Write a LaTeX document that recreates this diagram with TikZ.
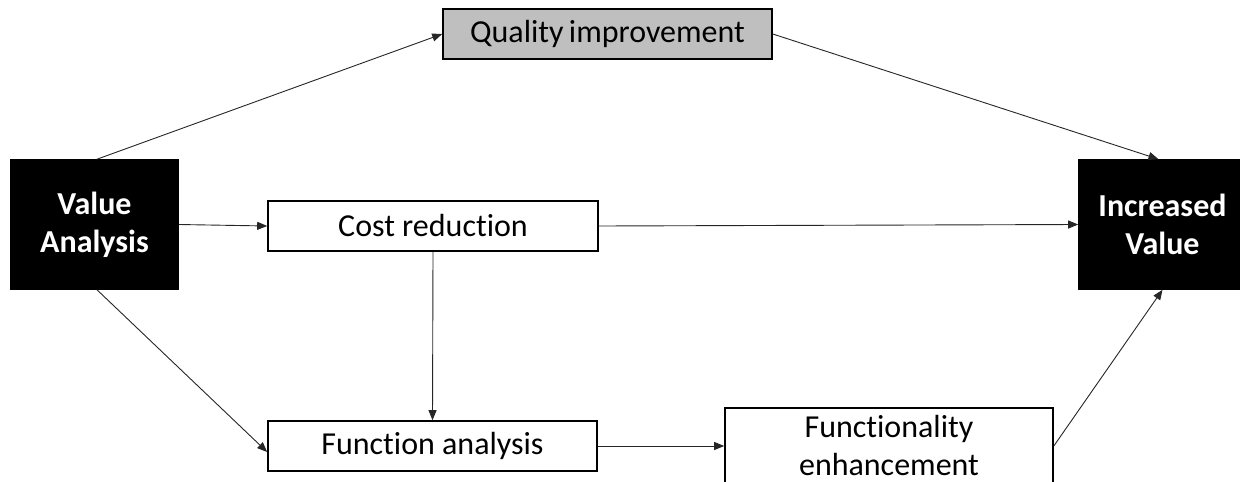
\documentclass[tikz,border=0pt]{standalone}
\usepackage{fontspec}
\setmainfont{Carlito}[Ligatures={NoCommon,NoContextual}]
\usetikzlibrary{arrows.meta}
\begin{document}
\begin{tikzpicture}[x=1pt,y=-1pt,
  font=\fontsize{32}{38}\selectfont,
  box/.style={draw=black,line width=1.6pt,rectangle,inner sep=0pt,align=center},
  dark/.style={box,fill=black,text=white,font=\fontsize{32}{38}\selectfont\bfseries,minimum width=167pt,minimum height=129pt},
  conn/.style={draw=black!85,line width=0.9pt,-{Triangle[length=10pt,width=8pt]}}]
\useasboundingbox (0,0) rectangle (1240,482);
\node[dark] (va) at (94.5,224.5) {Value\\Analysis};
\node[dark] (iv) at (1162.5,224.5) {Increased\\Value};
\node[box,fill=black!25,minimum width=329pt,minimum height=50pt] (qi) at (607.5,34) {Quality\,improvement};
\node[box,fill=white,minimum width=330pt,minimum height=50pt] (cr) at (433,226) {Cost reduction};
\node[box,fill=white,minimum width=329pt,minimum height=50pt] (fa) at (432.5,446) {Function analysis};
\node[box,fill=white,minimum width=328pt,minimum height=76pt] (fe) at (889,446) {Functionality\\enhancement};
\draw[conn] ([xshift=2.5pt]va.north) -- (qi.west);
\draw[conn] (qi.east) -- ([xshift=-4pt]iv.north);
\draw[conn] (va.east) -- (cr.west);
\draw[conn] (cr.east) -- (iv.west);
\draw[conn] (cr.south) -- (fa.north);
\draw[conn] ([xshift=2.5pt]va.south) -- ([yshift=-6pt]fa.west);
\draw[conn] (fa.east) -- (fe.west);
\draw[conn] (fe.east) -- (iv.south);
\end{tikzpicture}
\end{document}
